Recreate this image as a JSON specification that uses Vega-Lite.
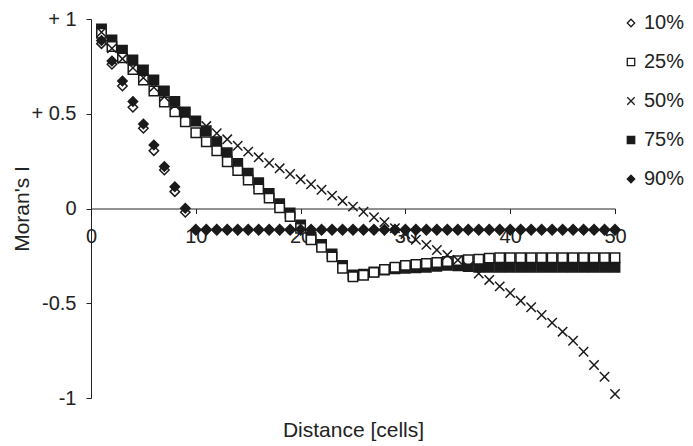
{
"$schema":"https://vega.github.io/schema/vega-lite/v6.json",
"width":524,"height":379,
"autosize":{"type":"none"},
"padding":{"left":91,"top":19,"right":78,"bottom":48},
"background":"white",
"config":{"view":{"stroke":null},"font":"Liberation Sans"},
"data":{"values":[
{"s":"10%","x":1,"y":0.87},{"s":"10%","x":2,"y":0.761},{"s":"10%","x":3,"y":0.646},{"s":"10%","x":4,"y":0.534},{"s":"10%","x":5,"y":0.423},{"s":"10%","x":6,"y":0.305},{"s":"10%","x":7,"y":0.203},{"s":"10%","x":8,"y":0.089},{"s":"10%","x":9,"y":-0.02},
{"s":"10%","x":10,"y":-0.115},{"s":"10%","x":11,"y":-0.115},{"s":"10%","x":12,"y":-0.115},{"s":"10%","x":13,"y":-0.115},{"s":"10%","x":14,"y":-0.115},{"s":"10%","x":15,"y":-0.115},{"s":"10%","x":16,"y":-0.115},{"s":"10%","x":17,"y":-0.115},{"s":"10%","x":18,"y":-0.115},{"s":"10%","x":19,"y":-0.115},{"s":"10%","x":20,"y":-0.115},{"s":"10%","x":21,"y":-0.115},{"s":"10%","x":22,"y":-0.115},{"s":"10%","x":23,"y":-0.115},{"s":"10%","x":24,"y":-0.115},{"s":"10%","x":25,"y":-0.115},{"s":"10%","x":26,"y":-0.115},{"s":"10%","x":27,"y":-0.115},{"s":"10%","x":28,"y":-0.115},{"s":"10%","x":29,"y":-0.115},{"s":"10%","x":30,"y":-0.115},{"s":"10%","x":31,"y":-0.115},{"s":"10%","x":32,"y":-0.115},{"s":"10%","x":33,"y":-0.115},{"s":"10%","x":34,"y":-0.115},{"s":"10%","x":35,"y":-0.115},{"s":"10%","x":36,"y":-0.115},{"s":"10%","x":37,"y":-0.115},{"s":"10%","x":38,"y":-0.115},{"s":"10%","x":39,"y":-0.115},{"s":"10%","x":40,"y":-0.115},{"s":"10%","x":41,"y":-0.115},{"s":"10%","x":42,"y":-0.115},{"s":"10%","x":43,"y":-0.115},{"s":"10%","x":44,"y":-0.115},{"s":"10%","x":45,"y":-0.115},{"s":"10%","x":46,"y":-0.115},{"s":"10%","x":47,"y":-0.115},{"s":"10%","x":48,"y":-0.115},{"s":"10%","x":49,"y":-0.115},{"s":"10%","x":50,"y":-0.115},
{"s":"75%","x":1,"y":0.947},{"s":"75%","x":2,"y":0.889},{"s":"75%","x":3,"y":0.836},{"s":"75%","x":4,"y":0.784},{"s":"75%","x":5,"y":0.731},{"s":"75%","x":6,"y":0.678},{"s":"75%","x":7,"y":0.62},{"s":"75%","x":8,"y":0.565},{"s":"75%","x":9,"y":0.51},{"s":"75%","x":10,"y":0.462},{"s":"75%","x":11,"y":0.41},{"s":"75%","x":12,"y":0.352},{"s":"75%","x":13,"y":0.294},{"s":"75%","x":14,"y":0.238},{"s":"75%","x":15,"y":0.186},{"s":"75%","x":16,"y":0.136},{"s":"75%","x":17,"y":0.08},{"s":"75%","x":18,"y":0.025},{"s":"75%","x":19,"y":-0.024},{"s":"75%","x":20,"y":-0.087},{"s":"75%","x":21,"y":-0.15},{"s":"75%","x":22,"y":-0.19},{"s":"75%","x":23,"y":-0.24},{"s":"75%","x":24,"y":-0.3},{"s":"75%","x":25,"y":-0.35},{"s":"75%","x":26,"y":-0.346},{"s":"75%","x":27,"y":-0.335},{"s":"75%","x":28,"y":-0.325},{"s":"75%","x":29,"y":-0.318},{"s":"75%","x":30,"y":-0.315},{"s":"75%","x":31,"y":-0.313},{"s":"75%","x":32,"y":-0.31},{"s":"75%","x":33,"y":-0.305},{"s":"75%","x":34,"y":-0.3},{"s":"75%","x":35,"y":-0.302},{"s":"75%","x":36,"y":-0.306},{"s":"75%","x":37,"y":-0.31},{"s":"75%","x":38,"y":-0.31},{"s":"75%","x":39,"y":-0.31},{"s":"75%","x":40,"y":-0.31},{"s":"75%","x":41,"y":-0.31},{"s":"75%","x":42,"y":-0.31},{"s":"75%","x":43,"y":-0.31},{"s":"75%","x":44,"y":-0.31},{"s":"75%","x":45,"y":-0.31},{"s":"75%","x":46,"y":-0.31},{"s":"75%","x":47,"y":-0.31},{"s":"75%","x":48,"y":-0.31},{"s":"75%","x":49,"y":-0.31},{"s":"75%","x":50,"y":-0.31},
{"s":"25%","x":1,"y":0.925},{"s":"25%","x":2,"y":0.855},{"s":"25%","x":3,"y":0.795},{"s":"25%","x":4,"y":0.733},{"s":"25%","x":5,"y":0.678},{"s":"25%","x":6,"y":0.62},{"s":"25%","x":7,"y":0.562},{"s":"25%","x":8,"y":0.51},{"s":"25%","x":9,"y":0.458},{"s":"25%","x":10,"y":0.4},{"s":"25%","x":11,"y":0.352},{"s":"25%","x":12,"y":0.305},{"s":"25%","x":13,"y":0.247},{"s":"25%","x":14,"y":0.2},{"s":"25%","x":15,"y":0.15},{"s":"25%","x":16,"y":0.103},{"s":"25%","x":17,"y":0.055},{"s":"25%","x":18,"y":0.003},{"s":"25%","x":19,"y":-0.043},{"s":"25%","x":20,"y":-0.105},{"s":"25%","x":21,"y":-0.165},{"s":"25%","x":22,"y":-0.205},{"s":"25%","x":23,"y":-0.255},{"s":"25%","x":24,"y":-0.315},{"s":"25%","x":25,"y":-0.36},{"s":"25%","x":26,"y":-0.352},{"s":"25%","x":27,"y":-0.337},{"s":"25%","x":28,"y":-0.322},{"s":"25%","x":29,"y":-0.31},{"s":"25%","x":30,"y":-0.3},{"s":"25%","x":31,"y":-0.295},{"s":"25%","x":32,"y":-0.29},{"s":"25%","x":33,"y":-0.285},{"s":"25%","x":34,"y":-0.28},{"s":"25%","x":35,"y":-0.275},{"s":"25%","x":36,"y":-0.27},{"s":"25%","x":37,"y":-0.268},{"s":"25%","x":38,"y":-0.262},{"s":"25%","x":39,"y":-0.26},{"s":"25%","x":40,"y":-0.26},{"s":"25%","x":41,"y":-0.26},{"s":"25%","x":42,"y":-0.26},{"s":"25%","x":43,"y":-0.26},{"s":"25%","x":44,"y":-0.26},{"s":"25%","x":45,"y":-0.26},{"s":"25%","x":46,"y":-0.26},{"s":"25%","x":47,"y":-0.26},{"s":"25%","x":48,"y":-0.26},{"s":"25%","x":49,"y":-0.26},{"s":"25%","x":50,"y":-0.26},
{"s":"50%","x":1,"y":0.93},{"s":"50%","x":2,"y":0.845},{"s":"50%","x":3,"y":0.79},{"s":"50%","x":4,"y":0.742},{"s":"50%","x":5,"y":0.69},{"s":"50%","x":6,"y":0.64},{"s":"50%","x":7,"y":0.59},{"s":"50%","x":8,"y":0.545},{"s":"50%","x":9,"y":0.5},{"s":"50%","x":10,"y":0.46},{"s":"50%","x":11,"y":0.435},{"s":"50%","x":12,"y":0.397},{"s":"50%","x":13,"y":0.365},{"s":"50%","x":14,"y":0.331},{"s":"50%","x":15,"y":0.3},{"s":"50%","x":16,"y":0.27},{"s":"50%","x":17,"y":0.24},{"s":"50%","x":18,"y":0.212},{"s":"50%","x":19,"y":0.182},{"s":"50%","x":20,"y":0.154},{"s":"50%","x":21,"y":0.128},{"s":"50%","x":22,"y":0.099},{"s":"50%","x":23,"y":0.068},{"s":"50%","x":24,"y":0.04},{"s":"50%","x":25,"y":0.01},{"s":"50%","x":26,"y":-0.017},{"s":"50%","x":27,"y":-0.046},{"s":"50%","x":28,"y":-0.072},{"s":"50%","x":29,"y":-0.104},{"s":"50%","x":30,"y":-0.135},{"s":"50%","x":31,"y":-0.165},{"s":"50%","x":32,"y":-0.192},{"s":"50%","x":33,"y":-0.219},{"s":"50%","x":34,"y":-0.245},{"s":"50%","x":35,"y":-0.272},{"s":"50%","x":36,"y":-0.307},{"s":"50%","x":37,"y":-0.343},{"s":"50%","x":38,"y":-0.377},{"s":"50%","x":39,"y":-0.411},{"s":"50%","x":40,"y":-0.446},{"s":"50%","x":41,"y":-0.487},{"s":"50%","x":42,"y":-0.521},{"s":"50%","x":43,"y":-0.562},{"s":"50%","x":44,"y":-0.603},{"s":"50%","x":45,"y":-0.65},{"s":"50%","x":46,"y":-0.698},{"s":"50%","x":47,"y":-0.756},{"s":"50%","x":48,"y":-0.826},{"s":"50%","x":49,"y":-0.888},{"s":"50%","x":50,"y":-0.979},
{"s":"90%","x":1,"y":0.886},{"s":"90%","x":2,"y":0.778},{"s":"90%","x":3,"y":0.673},{"s":"90%","x":4,"y":0.564},{"s":"90%","x":5,"y":0.446},{"s":"90%","x":6,"y":0.335},{"s":"90%","x":7,"y":0.221},{"s":"90%","x":8,"y":0.115},{"s":"90%","x":9,"y":0.001},
{"s":"90%","x":10,"y":-0.11},{"s":"90%","x":11,"y":-0.11},{"s":"90%","x":12,"y":-0.11},{"s":"90%","x":13,"y":-0.11},{"s":"90%","x":14,"y":-0.11},{"s":"90%","x":15,"y":-0.11},{"s":"90%","x":16,"y":-0.11},{"s":"90%","x":17,"y":-0.11},{"s":"90%","x":18,"y":-0.11},{"s":"90%","x":19,"y":-0.11},{"s":"90%","x":20,"y":-0.11},{"s":"90%","x":21,"y":-0.11},{"s":"90%","x":22,"y":-0.11},{"s":"90%","x":23,"y":-0.11},{"s":"90%","x":24,"y":-0.11},{"s":"90%","x":25,"y":-0.11},{"s":"90%","x":26,"y":-0.11},{"s":"90%","x":27,"y":-0.11},{"s":"90%","x":28,"y":-0.11},{"s":"90%","x":29,"y":-0.11},{"s":"90%","x":30,"y":-0.11},{"s":"90%","x":31,"y":-0.11},{"s":"90%","x":32,"y":-0.11},{"s":"90%","x":33,"y":-0.11},{"s":"90%","x":34,"y":-0.11},{"s":"90%","x":35,"y":-0.11},{"s":"90%","x":36,"y":-0.11},{"s":"90%","x":37,"y":-0.11},{"s":"90%","x":38,"y":-0.11},{"s":"90%","x":39,"y":-0.11},{"s":"90%","x":40,"y":-0.11},{"s":"90%","x":41,"y":-0.11},{"s":"90%","x":42,"y":-0.11},{"s":"90%","x":43,"y":-0.11},{"s":"90%","x":44,"y":-0.11},{"s":"90%","x":45,"y":-0.11},{"s":"90%","x":46,"y":-0.11},{"s":"90%","x":47,"y":-0.11},{"s":"90%","x":48,"y":-0.11},{"s":"90%","x":49,"y":-0.11},{"s":"90%","x":50,"y":-0.11}
]},
"mark":{"type":"point","size":88,"strokeWidth":1.5,"opacity":1},
"encoding":{
"x":{"field":"x","type":"quantitative","scale":{"domain":[0,50],"nice":false,"zero":false},
 "axis":{"values":[0,10,20,30,40,50],"offset":-189.5,"grid":false,"labelFlush":false,"labelOverlap":false,"domainColor":"#222","tickColor":"#222","tickSize":5,"labelPadding":13,"labelFontSize":20,"labelColor":"#222","labelFont":"Liberation Sans","title":"Distance [cells]","titleFontSize":21,"titleFontWeight":"normal","titleColor":"#222","titleFont":"Liberation Sans","titleY":211,"titleBaseline":"top"}},
"y":{"field":"y","type":"quantitative","scale":{"domain":[-1,1],"nice":false},
 "axis":{"values":[-1,-0.5,0,0.5,1],"grid":false,"labelFlush":false,"labelOverlap":false,"domainColor":"#222","tickColor":"#222","tickSize":5,"labelPadding":10,"labelFontSize":20,"labelColor":"#222","labelFont":"Liberation Sans","labelExpr":"datum.value > 0 ? '+ ' + format(datum.value,'~g') : (datum.value < 0 ? '-' + format(-datum.value,'~g') : '0')","title":"Moran's I","titleFontSize":21,"titleFontWeight":"normal","titleColor":"#222","titleFont":"Liberation Sans","titleX":-63,"titleBaseline":"alphabetic","titleAngle":-90}},
"shape":{"field":"s","type":"nominal","scale":{"domain":["10%","25%","50%","75%","90%"],"range":["diamond","square","M-1,-1L1,1M-1,1L1,-1","square","diamond"]},
 "legend":{"title":null,"orient":"none","legendX":530,"legendY":-6,"direction":"vertical","padding":0,"symbolSize":55,"symbolStrokeWidth":1.3,"labelFontSize":20,"labelColor":"#222","labelFont":"Liberation Sans","labelOffset":3,"rowPadding":19}},
"fill":{"field":"s","type":"nominal","scale":{"domain":["10%","25%","50%","75%","90%"],"range":["white","white","transparent","#1a1a1a","#1a1a1a"]},
 "legend":{"title":null,"orient":"none","legendX":530,"legendY":-6,"direction":"vertical","padding":0,"symbolSize":55,"symbolStrokeWidth":1.3,"labelFontSize":20,"labelColor":"#222","labelFont":"Liberation Sans","labelOffset":3,"rowPadding":19}},
"stroke":{"field":"s","type":"nominal","scale":{"domain":["10%","25%","50%","75%","90%"],"range":["#1a1a1a","#1a1a1a","#1a1a1a","#1a1a1a","#1a1a1a"]},
 "legend":{"title":null,"orient":"none","legendX":530,"legendY":-6,"direction":"vertical","padding":0,"symbolSize":55,"symbolStrokeWidth":1.3,"labelFontSize":20,"labelColor":"#222","labelFont":"Liberation Sans","labelOffset":3,"rowPadding":19}}
}
}
